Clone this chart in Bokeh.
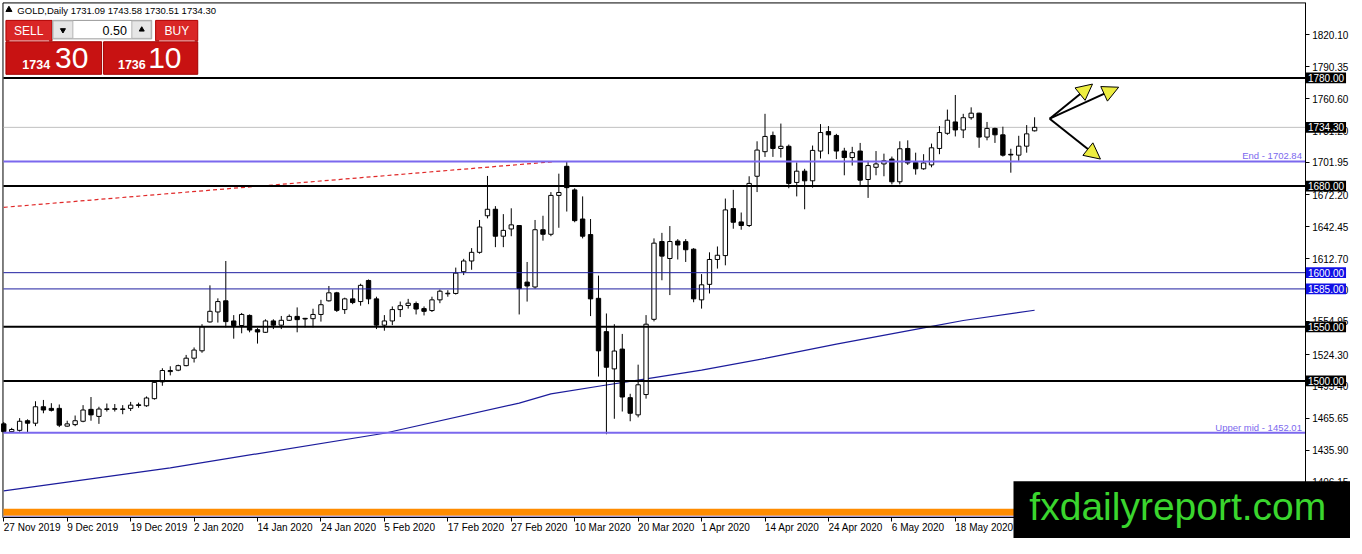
from bokeh.plotting import figure
from bokeh.models import (Range1d, LinearAxis, FixedTicker, NumeralTickFormatter,
                          Arrow, NormalHead, ColumnDataSource)
from bokeh.core.properties import value
from bokeh.embed import file_html
from bokeh.resources import INLINE

# ---------------- data ----------------
symbol = "GOLD"
timeframe = "Daily"

opens = [1460.3,1453.1,1454.3,1463.2,1460.9,1476.1,1474.6,1474.6,1458.2,1459.6,
 1462.7,1473.7,1467.2,1473.6,1473.8,1473.6,1474.6,1477.9,1477.0,1483.6,
 1499.1,1508.6,1509.9,1514.1,1521.0,1527.8,1554.5,1563.7,1574.0,1555.4,
 1551.2,1560.5,1547.3,1544.9,1555.4,1551.5,1556.0,1559.6,1557.8,1557.5,
 1561.4,1574.0,1581.4,1565.9,1575.8,1573.3,1592.8,1575.8,1551.5,1555.4,
 1565.9,1569.7,1571.5,1566.8,1565.0,1574.9,1580.5,1580.8,1600.9,1610.8,
 1618.8,1652.6,1658.6,1633.7,1640.4,1643.6,1591.3,1586.8,1639.7,1635.5,
 1671.4,1698.3,1676.5,1649.6,1635.2,1576.3,1545.5,1511.1,1529.4,1484.5,
 1468.6,1487.4,1556.9,1628.8,1613.1,1629.2,1628.7,1621.7,1574.9,1589.2,
 1612.2,1615.8,1659.2,1646.9,1643.6,1689.1,1711.8,1726.8,1714.8,1716.8,
 1683.4,1693.8,1684.9,1712.4,1730.4,1726.8,1712.4,1706.4,1712.4,1686.1,
 1697.4,1700.5,1705.0,1684.0,1714.8,1701.9,1696.0,1699.6,1714.8,1728.8,
 1739.3,1731.9,1743.2,1747.4,1725.3,1733.3,1727.4,1709.4,1708.6,1716.9,
 1731.09]
highs = [1462.0,1456.6,1465.6,1464.5,1481.2,1482.4,1479.4,1478.2,1463.2,1468.0,
 1477.6,1485.1,1476.1,1479.1,1478.6,1477.6,1480.6,1479.9,1485.6,1499.1,
 1511.7,1513.5,1515.0,1524.0,1530.9,1552.4,1588.3,1576.3,1610.8,1560.8,
 1562.8,1561.4,1548.8,1556.9,1556.9,1560.0,1561.4,1567.9,1558.2,1566.7,
 1574.9,1587.7,1582.3,1576.9,1584.7,1589.8,1593.7,1577.8,1560.8,1568.8,
 1573.3,1575.8,1573.3,1568.8,1577.8,1584.4,1583.8,1604.7,1612.8,1622.7,
 1648.7,1689.4,1661.5,1654.1,1659.5,1644.0,1609.9,1648.7,1652.6,1674.5,
 1691.5,1702.6,1678.0,1670.5,1649.6,1597.3,1562.3,1552.4,1543.4,1488.1,
 1515.0,1560.8,1631.7,1636.8,1643.1,1631.0,1631.0,1622.7,1598.7,1618.8,
 1624.2,1668.5,1676.5,1655.6,1689.1,1721.4,1746.8,1730.4,1737.8,1718.4,
 1701.9,1696.0,1717.5,1737.3,1735.5,1728.3,1715.4,1716.3,1719.9,1703.4,
 1712.4,1710.0,1707.3,1721.4,1722.3,1710.9,1709.5,1719.3,1735.5,1750.7,
 1764.2,1746.8,1752.8,1747.8,1739.3,1734.0,1734.9,1714.5,1726.5,1736.4,
 1743.58]
lows = [1452.5,1452.5,1453.1,1452.2,1458.2,1470.1,1471.7,1457.3,1457.6,1458.2,
 1461.8,1463.2,1460.3,1471.7,1471.7,1469.2,1472.2,1475.2,1476.1,1482.7,
 1495.5,1505.1,1509.0,1513.5,1517.0,1526.0,1553.9,1553.9,1549.4,1539.0,
 1544.0,1544.9,1534.5,1544.3,1547.9,1547.9,1555.4,1544.9,1549.4,1549.4,
 1554.8,1573.3,1563.7,1561.9,1570.9,1569.5,1570.9,1547.9,1546.4,1551.5,
 1559.0,1566.8,1561.4,1560.5,1563.7,1571.8,1577.8,1579.8,1597.8,1602.7,
 1617.6,1650.2,1623.6,1623.6,1633.7,1561.4,1573.3,1585.3,1629.6,1633.7,
 1641.5,1656.5,1646.6,1631.7,1559.9,1504.0,1450.7,1465.0,1471.7,1462.7,
 1466.3,1483.6,1555.0,1593.0,1579.3,1612.2,1609.9,1572.7,1566.8,1580.8,
 1603.8,1606.8,1640.6,1639.7,1642.2,1674.5,1707.0,1707.0,1706.4,1678.0,
 1670.5,1658.6,1678.6,1705.5,1709.5,1705.0,1690.0,1699.0,1681.0,1669.1,
 1690.0,1689.1,1681.6,1681.6,1699.6,1690.6,1695.1,1697.4,1709.5,1727.4,
 1725.9,1724.4,1741.4,1715.4,1722.3,1719.9,1707.3,1692.4,1703.4,1710.9,
 1730.51]
closes = [1453.1,1455.1,1462.7,1460.9,1476.1,1473.1,1472.8,1459.1,1460.3,1463.2,
 1473.1,1468.6,1474.0,1474.2,1474.3,1474.1,1477.6,1477.3,1484.2,1498.6,
 1509.6,1509.6,1514.1,1521.0,1528.5,1550.0,1564.3,1573.3,1554.8,1551.2,
 1561.4,1547.0,1545.2,1555.4,1551.5,1556.0,1559.6,1556.6,1557.2,1561.4,
 1570.4,1581.4,1565.2,1575.8,1572.4,1588.3,1575.8,1551.5,1555.4,1565.9,
 1569.5,1571.8,1566.4,1564.3,1574.9,1582.9,1581.0,1599.6,1610.8,1618.8,
 1642.2,1658.6,1633.7,1639.1,1644.2,1585.3,1587.7,1639.7,1635.5,1671.4,
 1674.1,1678.6,1648.1,1633.7,1575.8,1527.8,1512.6,1527.6,1485.1,1470.1,
 1496.4,1552.4,1627.3,1615.3,1628.8,1625.6,1621.2,1575.8,1588.8,1612.2,
 1616.1,1658.0,1646.6,1643.6,1682.5,1713.3,1725.9,1714.8,1716.8,1682.5,
 1693.8,1684.9,1713.0,1729.5,1727.4,1712.4,1706.4,1710.9,1685.5,1699.0,
 1700.5,1703.4,1684.0,1714.5,1701.4,1696.0,1701.4,1715.4,1729.5,1740.9,
 1731.9,1743.2,1747.4,1725.3,1733.3,1727.4,1708.6,1708.8,1716.9,1728.3,
 1734.30]

date_tick_bars = [0, 8, 16, 24, 32, 40, 48, 56, 64, 72, 80, 88, 96, 104, 112, 120]
date_tick_labels = ["27 Nov 2019", "9 Dec 2019", "19 Dec 2019", "2 Jan 2020", "14 Jan 2020",
                    "24 Jan 2020", "5 Feb 2020", "17 Feb 2020", "27 Feb 2020", "10 Mar 2020",
                    "20 Mar 2020", "1 Apr 2020", "14 Apr 2020", "24 Apr 2020", "6 May 2020",
                    "18 May 2020"]
price_ticks = [1820.10, 1790.35, 1760.60, 1731.20, 1701.95, 1672.20, 1642.45, 1612.70,
               1583.60, 1554.95, 1524.30, 1495.40, 1465.65, 1435.90, 1406.15]

ma_bars = [0, 21, 48, 65, 69, 76, 80, 88, 96, 105, 116, 121, 130]
ma_values = [1398.3, 1419.7, 1451.6, 1479.5, 1488.0, 1496.2, 1500.7, 1510.0, 1520.8,
             1534.0, 1549.0, 1555.8, 1565.3]

black_levels = [1780.00, 1680.00, 1550.00, 1500.00]
blue_levels = [1600.00, 1585.00]
fibo_levels = [1702.84, 1452.01]
fibo_names = ["End", "Upper mid"]

trend_bars = [0.0, 69.4]
trend_prices = [1660.4, 1702.6]

arrow_origin_bar = 131.9
arrow_origin_price = 1742.3
arrow_tip_bars = [137.3, 140.6, 138.3]
arrow_tip_prices = [1774.3, 1771.4, 1705.0]

lot_size = 0.50
bid = 1734.30
ask = 1736.10

# ------------- reference-pixel helpers (decorations only) -------------
PRICE_PER_PX = 0.8974

def xd(px):
    return (px - 3.3) / 8.0

def yd(py):
    return 1780.0 - (py - 79.7) * PRICE_PER_PX

FONT = "Liberation Sans"
X_LEFT, X_RIGHT, Y_TOP, Y_BOT = xd(2.5), xd(1316.3), yd(2.5), yd(532.7)

p = figure(width=1350, height=538,
           x_range=Range1d(xd(0), xd(1362)), y_range=Range1d(yd(554), yd(0)),
           x_axis_location=None, y_axis_location=None,
           toolbar_location=None, tools="", output_backend="svg",
           min_border_left=0, min_border_top=0, min_border_right=0, min_border_bottom=0,
           background_fill_color="white", border_fill_color="white",
           outline_line_color=None)
p.grid.visible = False

# axes drawn at fixed places inside the canvas
axR = LinearAxis(fixed_location=X_RIGHT, bounds=(Y_BOT, Y_TOP),
                 ticker=FixedTicker(ticks=price_ticks), formatter=NumeralTickFormatter(format="0.00"),
                 major_tick_out=4, major_tick_in=0, minor_tick_line_color=None,
                 major_label_standoff=3, axis_line_color="black", major_tick_line_color="black",
                 major_label_text_font=FONT, major_label_text_font_size="10px",
                 major_label_text_color="black")
p.add_layout(axR, "right")
axB = LinearAxis(fixed_location=Y_BOT, bounds=(xd(3), X_RIGHT),
                 ticker=FixedTicker(ticks=date_tick_bars),
                 major_label_overrides={b: lab for b, lab in zip(date_tick_bars, date_tick_labels)},
                 major_label_orientation=-0.0001,
                 major_tick_out=4, major_tick_in=0, minor_tick_line_color=None,
                 major_label_standoff=6, axis_line_color="black", major_tick_line_color="black",
                 major_label_text_font=FONT, major_label_text_font_size="10px",
                 major_label_text_color="black")
p.add_layout(axB, "below")

# chart border (top, left)
p.segment(x0=[X_LEFT, X_LEFT], y0=[Y_TOP, Y_TOP], x1=[X_RIGHT, X_LEFT], y1=[Y_TOP, Y_BOT],
          line_color="black", line_width=1)

# bottom orange strip
p.quad(left=[xd(3)], right=[X_RIGHT], top=[yd(523.3)], bottom=[yd(530.7)],
       fill_color="#ff8c00", line_color=None)
p.quad(left=[xd(3)], right=[X_RIGHT], top=[yd(530.7)], bottom=[Y_BOT],
       fill_color="#a59bd6", line_color=None)

# current price line (behind candles)
p.segment(x0=[xd(3)], y0=[closes[-1]], x1=[X_RIGHT], y1=[closes[-1]],
          line_color="#c0c0c0", line_width=1)

# moving average and trend line
p.line(ma_bars, ma_values, line_color="#1c1c9c", line_width=1.2)
p.line(trend_bars, trend_prices, line_color="#e02828", line_width=1.2, line_dash="4 3")

# candles
n = len(closes)
idx = list(range(n))
src = ColumnDataSource(dict(
    x=idx, high=highs, low=lows,
    top=[max(o, c) for o, c in zip(opens, closes)],
    bottom=[min(o, c) for o, c in zip(opens, closes)],
    fill=["white" if c >= o else "black" for o, c in zip(opens, closes)]))
p.segment(x0="x", y0="low", x1="x", y1="high", source=src, line_color="black", line_width=1)
p.vbar(x="x", width=0.55, top="top", bottom="bottom", fill_color="fill",
       line_color="black", line_width=1, source=src)

# level lines (drawn over the candles)
nb, nl, nf = len(black_levels), len(blue_levels), len(fibo_levels)
p.segment(x0=[xd(3)] * nb, y0=black_levels, x1=[X_RIGHT] * nb, y1=black_levels,
          line_color="black", line_width=2)
p.segment(x0=[xd(3)] * nl, y0=blue_levels, x1=[X_RIGHT] * nl, y1=blue_levels,
          line_color="#1f1fa0", line_width=1)
p.segment(x0=[xd(3)] * nf, y0=fibo_levels, x1=[X_RIGHT] * nf, y1=fibo_levels,
          line_color="#7b68ee", line_width=2)
p.text(x=[xd(1313)] * nf, y=[v + 5.6 * PRICE_PER_PX for v in fibo_levels],
       text=[f"{nm} - {lv:.2f}" for nm, lv in zip(fibo_names, fibo_levels)],
       text_align="right", text_baseline="middle",
       text_font=value(FONT), text_font_size=value("9.5px"), text_color="#7b68ee")

# price tags over the axis labels
tag_prices = black_levels + blue_levels + [closes[-1]]
tag_colors = ["black"] * nb + ["#1010e6"] * nl + ["black"]
half = 5.5 * PRICE_PER_PX
r = p.quad(left=[xd(1317)] * len(tag_prices), right=[xd(1357.5)] * len(tag_prices),
           top=[v + half for v in tag_prices], bottom=[v - half for v in tag_prices],
           fill_color=tag_colors, line_color=None)
r.level = "overlay"
r = p.text(x=[xd(1319)] * len(tag_prices), y=tag_prices, text=[f"{v:.2f}" for v in tag_prices],
           text_align="left", text_baseline="middle", text_font=value(FONT),
           text_font_size=value("10px"), text_color="white")
r.level = "overlay"

# arrows
arrow_src = ColumnDataSource(dict(
    x_start=[arrow_origin_bar] * len(arrow_tip_bars),
    y_start=[arrow_origin_price] * len(arrow_tip_bars),
    x_end=arrow_tip_bars, y_end=arrow_tip_prices))
p.add_layout(Arrow(end=NormalHead(size=16, fill_color="#eded40", line_color="black", line_width=1),
                   source=arrow_src, x_start="x_start", y_start="y_start",
                   x_end="x_end", y_end="y_end", line_color="black", line_width=2))

# title
p.scatter(x=[xd(8.5)], y=[yd(9.5)], marker="triangle", size=6, color="black")
p.text(x=[xd(17)], y=[yd(10)],
       text=[f"{symbol},{timeframe}  {opens[-1]:.2f} {highs[-1]:.2f} {lows[-1]:.2f} {closes[-1]:.2f}"],
       text_baseline="middle", text_align="left", text_font=value(FONT),
       text_font_size=value("9.5px"), text_color="black")

# one-click trading panel
rl = [5.5, 5.5, 156.5, 104, 52.5, 53, 132.5]
rr = [52, 102, 199, 199, 152.5, 73, 152]
rt = [20.5, 42.5, 20.5, 42.5, 20.5, 21, 21]
rb = [41.5, 76, 41.5, 76, 39.5, 39, 39]
rf = ["#d92626", "#c81212", "#d92626", "#c81212", "white", "#e6e6e6", "#e6e6e6"]
rc = ["#b00000", "#a00000", "#b00000", "#a00000", "#9a9a9a", "#b4b4b4", "#b4b4b4"]
p.quad(left=[xd(v) for v in rl], right=[xd(v) for v in rr],
       top=[yd(v) for v in rt], bottom=[yd(v) for v in rb],
       fill_color=rf, line_color=rc, line_width=1)
p.segment(x0=[xd(9), xd(160)], y0=[yd(41.5)] * 2, x1=[xd(49), xd(196)], y1=[yd(41.5)] * 2,
          line_color="#f2a8a8", line_width=1)
p.scatter(x=[xd(63)], y=[yd(30.5)], marker="inverted_triangle", size=5, color="black")
p.scatter(x=[xd(142.5)], y=[yd(30)], marker="triangle", size=5, color="black")
p.text(x=[xd(28.5), xd(178)], y=[yd(31)] * 2, text=["SELL", "BUY"],
       text_align="center", text_baseline="middle", text_font=value(FONT),
       text_font_size=value("12px"), text_color="white")
p.text(x=[xd(127.5)], y=[yd(30.5)], text=[f"{lot_size:.2f}"], text_align="right",
       text_baseline="middle", text_font=value(FONT), text_font_size=value("12.5px"),
       text_color="black")
bid_s, ask_s = f"{bid:.2f}", f"{ask:.2f}"
p.text(x=[xd(22), xd(118.5)], y=[yd(66)] * 2, text=[bid_s[:-3], ask_s[:-3]],
       text_align="left", text_baseline="middle", text_font=value(FONT),
       text_font_size=value("12.5px"), text_font_style="bold", text_color="white")
p.text(x=[xd(55), xd(149)], y=[yd(59.5)] * 2, text=[bid_s[-2:], ask_s[-2:]],
       text_align="left", text_baseline="middle", text_font=value(FONT),
       text_font_size=value("30px"), text_color="white")

# watermark box
r = p.quad(left=[xd(1022)], right=[xd(1362)], top=[yd(495)], bottom=[yd(554)],
           fill_color="black", line_color=None)
r.level = "overlay"
r = p.text(x=[xd(1038)], y=[yd(521)], text=["fxdailyreport.com"], text_align="left",
           text_baseline="middle", text_font=value(FONT), text_font_size=value("39px"),
           text_color="#3ad62e")
r.level = "overlay"

open("out.html", "w").write(file_html(p, INLINE))
